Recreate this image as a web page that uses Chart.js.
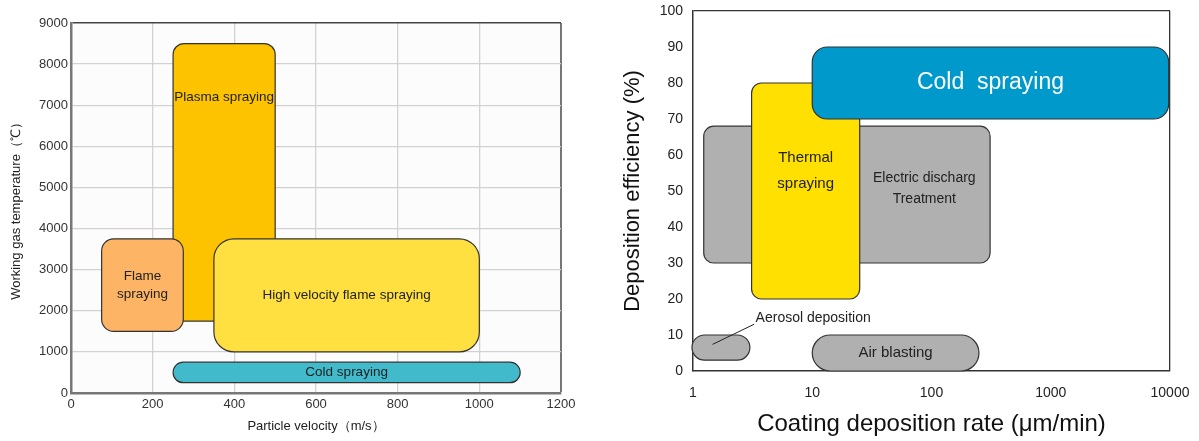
<!DOCTYPE html>
<html>
<head>
<meta charset="utf-8">
<script src="https://cdn.jsdelivr.net/npm/chart.js@4.4.1/dist/chart.umd.min.js"></script>
<style>
  html, body { margin: 0; padding: 0; background: #fff; }
  #wrap { position: relative; width: 1199px; height: 441px; }
  .pane { position: absolute; top: 0; height: 441px; }
</style>
</head>
<body>
<div id="wrap">
  <div class="pane" style="left:0;width:600px"><canvas id="velChart"></canvas></div>
  <div class="pane" style="left:600px;width:599px"><canvas id="rateChart"></canvas></div>
</div>
<script>
// left chart: particle velocity vs working gas temperature
const velProcesses = [["Plasma spraying"], ["Flame", "spraying"], ["High velocity flame spraying"], ["Cold spraying"]];
const velMin = [250, 75, 350, 250];
const velMax = [500, 275, 1000, 1100];
const tempMin = [1750, 1500, 1000, 250];
const tempMax = [8500, 3750, 3750, 750];
const velTicks = [0, 200, 400, 600, 800, 1000, 1200];
const tempTicks = [0, 1000, 2000, 3000, 4000, 5000, 6000, 7000, 8000, 9000];

// right chart: coating deposition rate vs deposition efficiency
const rateProcesses = [["Electric discharg", "Treatment"], ["Thermal", "spraying"], ["Cold  spraying"], ["Aerosol deposition"], ["Air blasting"]];
const rateMin = [1.23, 3.1, 10, 0.98, 10];
const rateMax = [310, 25, 9750, 3, 250];
const effMin = [30, 20, 70, 3, 0];
const effMax = [68, 80, 90, 10, 10];
const rateTicks = [1, 10, 100, 1000, 10000];
const effTicks = [0, 10, 20, 30, 40, 50, 60, 70, 80, 90, 100];

const FONT = "'Liberation Sans', Arial, sans-serif";

// look of each box (label anchors are in data units, null = box centre)
const velStyle = [
  { fill: "#FDC300", radius: 11, font: 13.5, labelY: 7200 },
  { fill: "#FDB464", radius: 12, font: 13.5, gap: 18.5 },
  { fill: "#FFE040", radius: 20, font: 13.5 },
  { fill: "#41BBCB", radius: 999, font: 13.5 }
];
const rateStyle = [
  { fill: "#B0B0B0", radius: 10, font: 14, gap: 21, labelX: 87, labelY: 50.7 },
  { fill: "#FFE000", radius: 10, font: 15, gap: 26, labelY: 55.7 },
  { fill: "#0099CC", radius: 15, font: 23, color: "#fff" },
  { fill: "#B0B0B0", radius: 999, font: 14, labelX: 3.35, labelY: 14.6, align: "left", leader: [[1.46, 7.4], [3.26, 13]] },
  { fill: "#B0B0B0", radius: 999, font: 15 }
];

function roundedBox(ctx, x0, y0, x1, y1, r) {
  r = Math.min(r, (x1 - x0) / 2, (y1 - y0) / 2);
  ctx.beginPath();
  ctx.moveTo(x0 + r, y0);
  ctx.arcTo(x1, y0, x1, y1, r);
  ctx.arcTo(x1, y1, x0, y1, r);
  ctx.arcTo(x0, y1, x0, y0, r);
  ctx.arcTo(x0, y0, x1, y0, r);
  ctx.closePath();
}

const boxPlugin = (names, xMin, xMax, yMin, yMax, styles) => ({
  id: "boxes",
  afterDatasetsDraw(chart) {
    const { ctx } = chart;
    const x = chart.scales.x, y = chart.scales.y;
    names.forEach((lines, i) => {
      const st = styles[i];
      const x0 = x.getPixelForValue(xMin[i]), x1 = x.getPixelForValue(xMax[i]);
      const y0 = y.getPixelForValue(yMax[i]), y1 = y.getPixelForValue(yMin[i]);
      ctx.save();
      roundedBox(ctx, x0, y0, x1, y1, st.radius);
      ctx.fillStyle = st.fill;
      ctx.fill();
      ctx.lineWidth = 1.2;
      ctx.strokeStyle = "#333";
      ctx.stroke();

      if (st.leader) {
        ctx.beginPath();
        ctx.moveTo(x.getPixelForValue(st.leader[0][0]), y.getPixelForValue(st.leader[0][1]));
        ctx.lineTo(x.getPixelForValue(st.leader[1][0]), y.getPixelForValue(st.leader[1][1]));
        ctx.lineWidth = 1;
        ctx.strokeStyle = "#222";
        ctx.stroke();
      }

      const cx = st.labelX != null ? x.getPixelForValue(st.labelX) : (x0 + x1) / 2;
      const cy = st.labelY != null ? y.getPixelForValue(st.labelY) : (y0 + y1) / 2;
      const gap = st.gap || st.font * 1.3;
      ctx.fillStyle = st.color || "#222";
      ctx.font = st.font + "px " + FONT;
      ctx.textAlign = st.align || "center";
      ctx.textBaseline = "middle";
      lines.forEach((t, k) => {
        ctx.fillText(t, cx, cy + (k - (lines.length - 1) / 2) * gap);
      });
      ctx.restore();
    });
  }
});

const plotBg = (color) => ({
  id: "plotBg",
  beforeDraw(chart) {
    const { ctx, chartArea: a } = chart;
    ctx.save();
    ctx.fillStyle = color;
    ctx.fillRect(a.left, a.top, a.right - a.left, a.bottom - a.top);
    ctx.restore();
  }
});

// left chart
new Chart(document.getElementById("velChart"), {
  type: "scatter",
  data: { datasets: [] },
  options: {
    responsive: true,
    maintainAspectRatio: false,
    animation: false,
    layout: { padding: { top: 23, right: 39, left: 0, bottom: 0 } },
    plugins: { legend: { display: false }, tooltip: { enabled: false } },
    scales: {
      x: {
        type: "linear", min: 0, max: 1200,
        afterBuildTicks: s => { s.ticks = velTicks.map(v => ({ value: v })); },
        grid: {
          color: c => (c.tick && c.tick.value === 1200 ? "#777" : "#D2D2D2"),
          lineWidth: c => (c.tick && c.tick.value === 1200 ? 2 : 1.3),
          drawTicks: false
        },
        border: { color: "#777", width: 2.5 },
        ticks: { color: "#333", font: { size: 13, family: FONT }, padding: 4, maxRotation: 0, callback: v => String(v) },
        title: { display: true, text: "Particle velocity（m/s）", color: "#222", font: { size: 13, family: FONT }, padding: { top: 0, bottom: 6.5 } },
        afterFit: s => { s.height = 48; }
      },
      y: {
        type: "linear", min: 0, max: 9000,
        afterBuildTicks: s => { s.ticks = tempTicks.map(v => ({ value: v })); },
        grid: {
          color: c => (c.tick && c.tick.value === 9000 ? "#444" : "#D2D2D2"),
          lineWidth: c => (c.tick && c.tick.value === 9000 ? 1.5 : 1.3),
          drawTicks: false
        },
        border: { color: "#777", width: 2.5 },
        ticks: { color: "#333", font: { size: 13, family: FONT }, padding: 3, callback: v => String(v) },
        title: { display: true, text: "Working gas temperature（℃）", color: "#222", font: { size: 13, family: FONT }, padding: { top: 9, bottom: 0 } },
        afterFit: s => { s.width = 71; }
      }
    }
  },
  plugins: [plotBg("#FCFCFC"), boxPlugin(velProcesses, velMin, velMax, tempMin, tempMax, velStyle)]
});

// right chart (label gaps made with invisible tick marks so the plot keeps its size)
new Chart(document.getElementById("rateChart"), {
  type: "scatter",
  data: { datasets: [] },
  options: {
    responsive: true,
    maintainAspectRatio: false,
    animation: false,
    layout: { padding: { top: 11, right: 29, left: 0, bottom: 0 } },
    plugins: { legend: { display: false }, tooltip: { enabled: false } },
    scales: {
      x: {
        type: "logarithmic", min: 1, max: 10000,
        afterBuildTicks: s => { s.ticks = rateTicks.map(v => ({ value: v })); },
        grid: {
          color: c => (c.tick && c.tick.value === 10000 ? "#333" : "rgba(0,0,0,0)"),
          lineWidth: 1.3,
          drawTicks: true,
          tickLength: 14,
          tickColor: "rgba(0,0,0,0)"
        },
        border: { color: "#333", width: 1.5 },
        ticks: { color: "#222", font: { size: 14, family: FONT }, padding: 0, maxRotation: 0, autoSkip: false, callback: v => String(v) },
        title: { display: true, text: "Coating deposition rate (μm/min)", color: "#111", font: { size: 24, family: FONT }, padding: { top: 0, bottom: 2 } },
        afterFit: s => { s.height = 70; }
      },
      y: {
        type: "linear", min: 0, max: 100,
        afterBuildTicks: s => { s.ticks = effTicks.map(v => ({ value: v })); },
        grid: {
          color: c => (c.tick && c.tick.value === 100 ? "#333" : "rgba(0,0,0,0)"),
          lineWidth: 1.3,
          drawTicks: true,
          tickLength: 10,
          tickColor: "rgba(0,0,0,0)"
        },
        border: { color: "#333", width: 1.5 },
        ticks: { color: "#222", font: { size: 14, family: FONT }, padding: 0, callback: v => String(v) },
        title: { display: true, text: "Deposition efficiency (%)", color: "#111", font: { size: 22, family: FONT }, padding: { top: 20, bottom: 0 } },
        afterFit: s => { s.width = 93; }
      }
    }
  },
  plugins: [boxPlugin(rateProcesses, rateMin, rateMax, effMin, effMax, rateStyle)]
});
</script>
</body>
</html>
